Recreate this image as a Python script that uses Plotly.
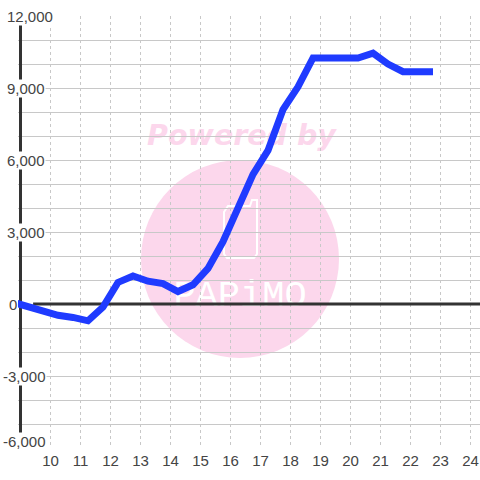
import plotly.graph_objects as go

x_values = [8.75, 9.25, 9.75, 10.25, 10.75, 11.25, 11.75, 12.25, 12.75, 13.25, 13.75, 14.25, 14.75,
            15.25, 15.75, 16.25, 16.75, 17.25, 17.75, 18.25, 18.75, 19.25, 19.75, 20.25, 20.75,
            21.25, 21.75, 22.25, 22.75]
y_values = [70, -130, -320, -470, -560, -700, -130, 900, 1170, 950, 850, 520, 800,
            1480, 2600, 3950, 5400, 6400, 8100, 9050, 10250, 10250, 10250, 10250, 10450,
            10000, 9680, 9680, 9680]
x_ticks = list(range(10, 25))
y_major = [12000, 9000, 6000, 3000, 0, -3000, -6000]
y_labels = ["12,000", "9,000", "6,000", "3,000", "0", "-3,000", "-6,000"]
y_grid = list(range(-6000, 13000, 1000))
label_px_left = [6, 6, 6, 6, 8, 2, 2]
label_yshift = [0, 0, 0, 0, 0, 0, 7]

W, H = 480, 480
L, R, T, B = 18, 480, 16, 448
X0 = 9 - (20.5 - L) / 30
X1 = 9 + (R - 20.5) / 30


def px(v):
    return (v - L) / (R - L)


def py(v):
    return (B - v) / (B - T)


fig = go.Figure()
fig.add_trace(go.Scatter(x=x_values, y=y_values, mode="lines",
                         line=dict(color="#1f3bff", width=7, shape="linear"),
                         hoverinfo="skip", showlegend=False))

PINK = "#fcd7ec"
phone = [(224, 212), (228, 206), (250, 206), (252, 200), (257, 200), (257, 254), (254, 258), (227, 258), (224, 254)]
phone_path = "M " + " L ".join(f"{px(a):.5f} {py(b):.5f}" for a, b in phone) + " Z"
shapes = [
    dict(type="circle", xref="paper", yref="paper", layer="below",
         x0=px(141), x1=px(339), y0=py(358), y1=py(160),
         fillcolor=PINK, line=dict(width=0)),
    dict(type="path", xref="paper", yref="paper", layer="below", path=phone_path,
         fillcolor="rgba(0,0,0,0)", line=dict(color="white", width=2)),
    dict(type="rect", xref="paper", yref="paper", layer="below",
         x0=px(140), x1=px(343), y0=py(150), y1=py(116),
         fillcolor="rgba(0,0,0,0)", line=dict(width=0),
         label=dict(text="Powered by",
                    font=dict(family="DejaVu Sans", size=28.5, color=PINK, weight=700, style="italic"),
                    textposition="middle center")),
    dict(type="rect", xref="paper", yref="paper", layer="below",
         x0=px(165), x1=px(315), y0=py(310), y1=py(270),
         fillcolor="rgba(0,0,0,0)", line=dict(width=0),
         label=dict(text="PAPiMO", font=dict(family="Liberation Mono", size=37, color="white"),
                    textposition="middle center")),
    dict(type="line", xref="x", yref="y", layer="between", x0=9, x1=9, y0=-6000, y1=12000,
         line=dict(color="#333333", width=3)),
    dict(type="line", xref="x", yref="y", layer="between", x0=9.42, x1=X1, y0=0, y1=0,
         line=dict(color="#333333", width=3)),
]

annotations = [
    dict(x=px(p), y=v, xref="paper", yref="y", text=t, showarrow=False, yshift=s,
         xanchor="left", yanchor="middle", bgcolor="white", borderpad=0,
         font=dict(family="Liberation Sans", size=15, color="#444444"))
    for p, v, t, s in zip(label_px_left, y_major, y_labels, label_yshift)
]

fig.update_layout(
    width=W, height=H, autosize=False,
    margin=dict(l=L, r=W - R, t=T, b=H - B),
    paper_bgcolor="white", plot_bgcolor="white",
    shapes=shapes, annotations=annotations, showlegend=False,
    xaxis=dict(range=[X0, X1], tickmode="array", tickvals=x_ticks, ticktext=[str(v) for v in x_ticks],
               showgrid=True, gridcolor="#c8c8c8", griddash="3px,3px", gridwidth=1,
               zeroline=False, showline=False, ticks="", ticklabelstandoff=2,
               tickfont=dict(family="Liberation Sans", size=15, color="#444444")),
    yaxis=dict(range=[-6000, 12000], tickmode="array", tickvals=y_grid, showticklabels=False,
               showgrid=True, gridcolor="#c8c8c8", gridwidth=1.3,
               zeroline=False, showline=False, ticks=""),
)
fig.write_html("out.html", config=dict(displayModeBar=False),
               post_script="document.body.style.margin='0';document.body.style.overflow='hidden';")
